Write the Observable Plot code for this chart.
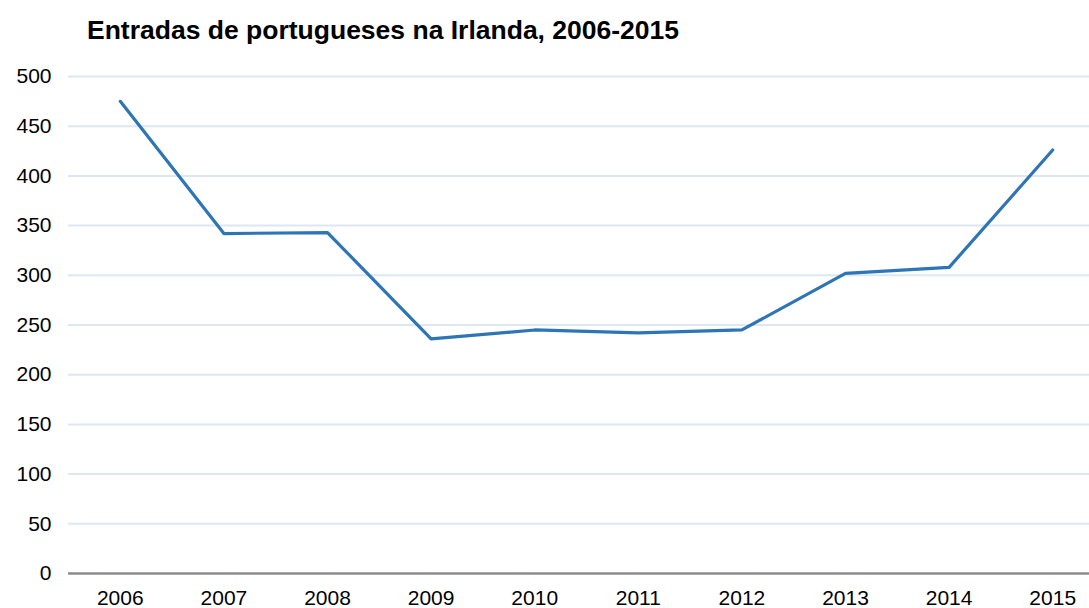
<!DOCTYPE html>
<html><head><meta charset="utf-8">
<script src="https://cdn.jsdelivr.net/npm/d3@7"></script>
<script src="https://cdn.jsdelivr.net/npm/@observablehq/plot@0.6"></script>
<style>
body{margin:0;background:#fff;font-family:"Liberation Sans",Arial,sans-serif;}
#title{position:absolute;left:87px;top:14px;font-size:26.5px;line-height:32px;font-weight:bold;color:#000;white-space:nowrap;}
#chart{position:absolute;left:0;top:50px;}
</style></head><body>
<div id="title">Entradas de portugueses na Irlanda, 2006-2015</div>
<div id="chart"></div>
<script>
const years = [2006,2007,2008,2009,2010,2011,2012,2013,2014,2015];
const entradas = [475,342,343,236,245,242,245,302,308,426];
const yTicks = [0,50,100,150,200,250,300,350,400,450,500];
const data = years.map((y,i)=>({year:y, value:entradas[i]}));
const plot = Plot.plot({
  width:1089, height:558,
  marginLeft:68, marginRight:0, marginTop:26, marginBottom:35,
  style:{fontFamily:'"Liberation Sans",Arial,sans-serif', fontSize:"21px", color:"#000", background:"transparent"},
  x:{domain:[2005.5,2015.5], range:[68,1104], label:null},
  y:{domain:[0,500], label:null},
  marks:[
    Plot.ruleY(yTicks.filter(d=>d>0), {stroke:"#dce7f3", strokeWidth:2}),
    Plot.ruleY([0], {stroke:"#8c8c8c", strokeWidth:2.5}),
    Plot.axisY({ticks:yTicks, tickSize:0, tickPadding:17, tickFormat:d=>String(d), fontSize:21}),
    Plot.axisX({ticks:years, tickSize:0, tickPadding:17, tickFormat:d=>String(d), fontSize:21}),
    Plot.line(data, {x:"year", y:"value", stroke:"#2e75b6", strokeWidth:3.2})
  ]
});
document.getElementById("chart").appendChild(plot);
</script></body></html>
